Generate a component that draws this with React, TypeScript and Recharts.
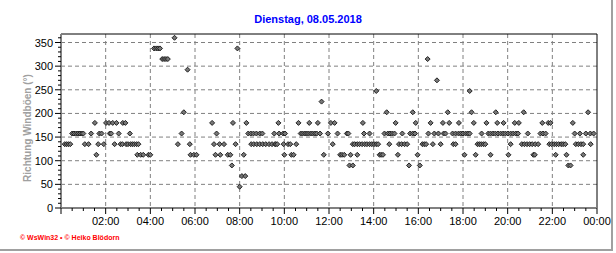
import React from "react";
import {
  ScatterChart,
  Scatter,
  XAxis,
  YAxis,
  CartesianGrid,
  ReferenceLine,
} from "recharts";

// Zeitpunkte (Minuten seit 00:00) je Windrichtung
const dir45 = [480];
const dir67 = [486, 495];
const dir90 = [459, 775, 784, 935, 964, 1363, 1369];
const dir112 = [
  95, 205, 214, 221, 235, 240, 348, 357, 364, 415, 428, 448, 455, 491, 600, 619,
  625, 706, 750, 755, 761, 778, 796, 856, 860, 865, 905, 958, 1084, 1114, 1154,
  1202, 1269, 1273, 1329, 1358, 1403,
];
const dir135 = [
  10, 15, 20, 25, 64, 74, 100, 115, 144, 160, 165, 175, 180, 187, 192, 197, 203,
  208, 314, 346, 411, 426, 438, 469, 511, 518, 526, 534, 542, 550, 559, 567, 575,
  577, 581, 598, 610, 616, 632, 730, 784, 789, 796, 802, 809, 816, 822, 829, 835,
  841, 847, 852, 882, 908, 915, 923, 930, 971, 976, 981, 999, 1020, 1054, 1060,
  1119, 1124, 1129, 1135, 1140, 1208, 1238, 1245, 1252, 1259, 1266, 1274, 1282,
  1312, 1318, 1325, 1331, 1337, 1344, 1349, 1355, 1383, 1390, 1397, 1403, 1423,
];
const dir157 = [
  30, 35, 41, 46, 51, 56, 60, 81, 103, 109, 131, 135, 155, 185, 324, 418, 503,
  510, 517, 525, 534, 541, 573, 586, 597, 602, 644, 649, 655, 660, 665, 671, 676,
  682, 687, 696, 717, 743, 768, 772, 814, 829, 869, 878, 884, 890, 896, 917, 938,
  945, 951, 987, 1003, 1014, 1028, 1033, 1052, 1060, 1068, 1074, 1080, 1087,
  1093, 1098, 1130, 1148, 1154, 1161, 1167, 1174, 1181, 1188, 1194, 1201, 1208,
  1215, 1222, 1228, 1254, 1288, 1295, 1302, 1380, 1394, 1410, 1422, 1431,
];
const dir180 = [
  91, 121, 129, 139, 149, 166, 173, 406, 462, 498, 584, 638, 667, 690, 725, 735,
  811, 899, 953, 993, 1026, 1043, 1069, 1109, 1143, 1172, 1189, 1219, 1230, 1293,
  1309, 1315, 1375,
];
const dir202 = [330, 875, 945, 1039, 1103, 1168, 1243, 1416];
const dir225 = [700];
const dir247 = [847, 1098];
const dir270 = [1010];
const dir292 = [340];
const dir315 = [272, 277, 282, 287, 985];
const dir337 = [250, 256, 261, 266, 474];
const dir360 = [305];

const groups: [number, number[]][] = [
  [45, dir45],
  [67.5, dir67],
  [90, dir90],
  [112.5, dir112],
  [135, dir135],
  [157.5, dir157],
  [180, dir180],
  [202.5, dir202],
  [225, dir225],
  [247.5, dir247],
  [270, dir270],
  [292.5, dir292],
  [315, dir315],
  [337.5, dir337],
  [360, dir360],
];

const data = groups.flatMap(([dir, times]) => times.map((t) => ({ t, dir })));

const xTicks = Array.from({ length: 49 }, (_, i) => i * 30);
const yTicks = Array.from({ length: 37 }, (_, i) => i * 10);
const xGrid = [120, 240, 360, 480, 600, 720, 840, 960, 1080, 1200, 1320];
const yGrid = [50, 100, 150, 200, 250, 300, 350];

const FONT = "'Liberation Sans', Arial, sans-serif";

const fmtTime = (m: number) => {
  const h = Math.floor(m / 60) % 24;
  return `${String(h).padStart(2, "0")}:00`;
};

const XTick = (props: any) => {
  const { x, y, payload } = props;
  const v = payload.value;
  const major = v % 120 === 0;
  return (
    <g>
      <line x1={x} x2={x} y1={y} y2={y + (major ? 6 : 3)} stroke="#000" />
      {major && v > 0 && (
        <text x={x} y={y + 17} textAnchor="middle" fontSize={11} fontFamily={FONT} fill="#000">
          {fmtTime(v)}
        </text>
      )}
    </g>
  );
};

const YTick = (props: any) => {
  const { x, y, payload } = props;
  const v = payload.value;
  const major = v % 50 === 0;
  return (
    <g>
      <line x1={x - (major ? 6 : 3)} x2={x} y1={y} y2={y} stroke="#000" />
      {major && (
        <text x={x - 8} y={y + 4} textAnchor="end" fontSize={11} fontFamily={FONT} fill="#000">
          {v}
        </text>
      )}
    </g>
  );
};

const Diamond = (props: any) => {
  const { cx, cy } = props;
  const r = 2.5;
  return (
    <polygon
      points={`${cx},${cy - r} ${cx + r},${cy} ${cx},${cy + r} ${cx - r},${cy}`}
      fill="#777"
      stroke="#222"
      strokeWidth={1}
    />
  );
};

export default function App() {
  return (
    <div
      style={{
        position: "absolute",
        left: 0,
        top: 0,
        width: 616,
        height: 253,
        background: "#fff",
        fontFamily: FONT,
      }}
    >
      <div
        style={{
          position: "absolute",
          left: 0,
          top: 0,
          width: 611,
          height: 249,
          borderRight: "2px solid #a0a0a0",
          borderBottom: "2px solid #a0a0a0",
        }}
      />
      <div
        style={{
          position: "absolute",
          left: 0,
          top: 12,
          width: 616,
          textAlign: "center",
          fontSize: 11,
          fontWeight: "bold",
          lineHeight: "14px",
          color: "#0000ff",
        }}
      >
        Dienstag, 08.05.2018
      </div>
      <div
        style={{
          position: "absolute",
          left: 27,
          top: 128,
          transform: "translate(-50%, -50%) rotate(-90deg)",
          whiteSpace: "nowrap",
          fontSize: 10,
          fontWeight: "bold",
          color: "#a0a0a0",
        }}
      >
        Richtung Windböen (°)
      </div>
      <div
        style={{
          position: "absolute",
          left: 20,
          top: 234,
          fontSize: 7,
          fontWeight: "bold",
          color: "#ff0000",
          whiteSpace: "nowrap",
        }}
      >
        © WsWin32 • © Heiko Blödorn
      </div>
      <div style={{ position: "absolute", left: 0, top: 0 }}>
        <ScatterChart
          width={616}
          height={253}
          margin={{ top: 34, right: 19, bottom: 15, left: 0 }}
        >
          <CartesianGrid
            stroke="#808080"
            strokeDasharray="4 3"
            horizontalValues={yGrid}
            verticalValues={xGrid}
          />
          <XAxis
            type="number"
            dataKey="t"
            domain={[0, 1440]}
            ticks={xTicks}
            interval={0}
            height={30}
            tickSize={0}
            tickMargin={0}
            tickLine={false}
            axisLine={{ stroke: "#808080", strokeWidth: 2 }}
            tick={<XTick />}
          />
          <YAxis
            type="number"
            dataKey="dir"
            domain={[0, 368]}
            ticks={yTicks}
            interval={0}
            width={61}
            tickSize={0}
            tickMargin={0}
            tickLine={false}
            axisLine={{ stroke: "#808080", strokeWidth: 2 }}
            tick={<YTick />}
          />
          <ReferenceLine y={368} stroke="#000" strokeWidth={1} />
          <ReferenceLine x={1440} stroke="#000" strokeWidth={1} />
          <Scatter data={data} shape={<Diamond />} isAnimationActive={false} />
        </ScatterChart>
      </div>
    </div>
  );
}
